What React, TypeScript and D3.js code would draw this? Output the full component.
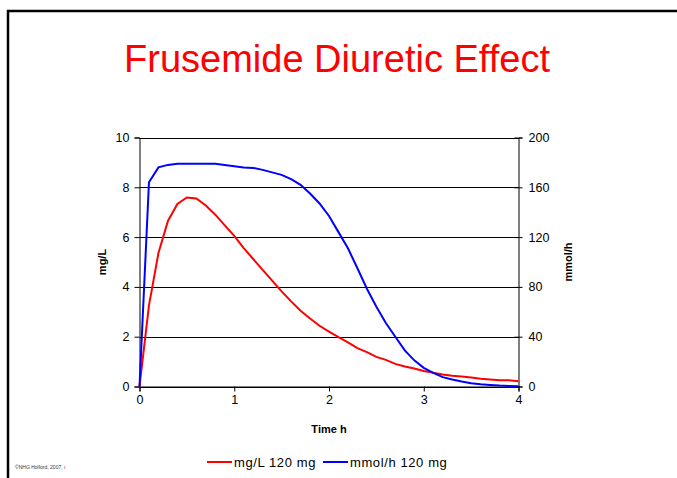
import * as d3 from "d3";
import React, {useEffect, useRef} from "react";

// time (h), sampled every 0.1 h
const times = [
  0, 0.1, 0.2, 0.3, 0.4, 0.5, 0.6, 0.7, 0.8, 0.9, 1.0,
  1.1, 1.2, 1.3, 1.4, 1.5, 1.6, 1.7, 1.8, 1.9, 2.0,
  2.1, 2.2, 2.3, 2.4, 2.5, 2.6, 2.7, 2.8, 2.9, 3.0,
  3.1, 3.2, 3.3, 3.4, 3.5, 3.6, 3.7, 3.8, 3.9, 4.0,
];

// concentration, mg/L (left axis)
const concMgL = [
  0, 3.26, 5.36, 6.65, 7.33, 7.59, 7.55, 7.27, 6.9, 6.47, 6.05,
  5.56, 5.12, 4.68, 4.25, 3.82, 3.42, 3.04, 2.73, 2.44, 2.2,
  1.98, 1.77, 1.54, 1.38, 1.19, 1.07, 0.91, 0.8, 0.72, 0.62,
  0.55, 0.48, 0.43, 0.4, 0.36, 0.31, 0.28, 0.25, 0.25, 0.21,
];

// sodium excretion rate, mmol/h (right axis)
const effectMmolH = [
  0, 164, 176, 178, 179, 179, 179, 179, 179, 178, 177,
  176, 175.6, 174, 172, 170, 166.5, 162, 155, 147, 137,
  124, 111, 95, 78.5, 64, 51, 40, 29, 21, 15,
  11, 7.5, 5.6, 4, 2.7, 1.9, 1.3, 0.8, 0.5, 0.3,
];

const xTicks = [0, 1, 2, 3, 4];
const leftTicks = [0, 2, 4, 6, 8, 10];
const rightTicks = [0, 40, 80, 120, 160, 200];

const seriesNames = ["mg/L 120 mg", "mmol/h 120 mg"];
const seriesColors = ["#ff0000", "#0000ff"];

const font = "Arial, 'Liberation Sans', sans-serif";

const FrusemideChart: React.FC = () => {
  const ref = useRef<SVGSVGElement | null>(null);

  useEffect(() => {
    const svg = d3.select(ref.current);
    svg.selectAll('*').remove();

    const width = 677;
    const height = 478;
    const plot = { left: 139.5, right: 518.5, top: 137.5, bottom: 386.5 };

    svg.attr("width", width).attr("height", height);

    // slide frame (top and left edges)
    svg.append('path')
      .attr('d', `M8,${height} L8,11 L${width},11`)
      .attr('fill', 'none')
      .attr('stroke', 'black')
      .attr('stroke-width', 2.5);

    svg.append('text')
      .attr('x', 337)
      .attr('y', 72)
      .attr('text-anchor', 'middle')
      .attr('fill', '#ff0000')
      .style('font-family', font)
      .style('font-size', '38px')
      .text('Frusemide Diuretic Effect');

    const xScale = d3.scaleLinear().domain([0, 4]).range([plot.left, plot.right]);
    const yLeft = d3.scaleLinear().domain([0, 10]).range([plot.bottom, plot.top]);
    const yRight = d3.scaleLinear().domain([0, 200]).range([plot.bottom, plot.top]);

    // horizontal gridlines
    svg.append('g')
      .selectAll('line')
      .data(leftTicks)
      .enter()
      .append('line')
      .attr('x1', plot.left)
      .attr('x2', plot.right)
      .attr('y1', (d) => Math.round(yLeft(d)) + 0.5)
      .attr('y2', (d) => Math.round(yLeft(d)) + 0.5)
      .attr('stroke', 'black')
      .attr('stroke-width', 1);

    const styleAxis = (g: d3.Selection<SVGGElement, unknown, null, undefined>) => {
      g.select('.domain').attr('stroke', 'black');
      g.selectAll('.tick line').attr('stroke', 'black');
      g.selectAll('.tick text')
        .attr('fill', 'black')
        .style('font-family', font)
        .style('font-size', '12.5px');
    };

    svg.append('g')
      .attr('transform', `translate(0, ${plot.bottom})`)
      .call(d3.axisBottom(xScale).tickValues(xTicks).tickFormat(d3.format('d')).tickSizeOuter(0).tickSize(5).tickPadding(4))
      .call(styleAxis);

    svg.append('g')
      .attr('transform', `translate(${plot.left}, 0)`)
      .call(d3.axisLeft(yLeft).tickValues(leftTicks).tickFormat(d3.format('d')).tickSizeOuter(0).tickSize(5).tickPadding(5))
      .call(styleAxis);

    const rightAxis = svg.append('g')
      .attr('transform', `translate(${plot.right}, 0)`)
      .call(d3.axisRight(yRight).tickValues(rightTicks).tickFormat(d3.format('d')).tickSizeOuter(0).tickSize(4).tickPadding(6))
      .call(styleAxis);
    rightAxis.selectAll('.tick line').attr('x1', -4);

    // axis titles
    svg.append('text')
      .attr('transform', `translate(106, ${(plot.top + plot.bottom) / 2}) rotate(-90)`)
      .attr('text-anchor', 'middle')
      .style('font-family', font)
      .style('font-size', '11px')
      .style('font-weight', 'bold')
      .text('mg/L');

    svg.append('text')
      .attr('transform', `translate(572, ${(plot.top + plot.bottom) / 2}) rotate(-90)`)
      .attr('text-anchor', 'middle')
      .style('font-family', font)
      .style('font-size', '11px')
      .style('font-weight', 'bold')
      .text('mmol/h');

    svg.append('text')
      .attr('x', (plot.left + plot.right) / 2)
      .attr('y', 433)
      .attr('text-anchor', 'middle')
      .style('font-family', font)
      .style('font-size', '11px')
      .style('font-weight', 'bold')
      .text('Time h');

    // curves
    const lineLeft = d3.line<number>()
      .x((_, i) => xScale(times[i]))
      .y((d) => yLeft(d));
    const lineRight = d3.line<number>()
      .x((_, i) => xScale(times[i]))
      .y((d) => yRight(d));

    svg.append('path')
      .datum(concMgL)
      .attr('d', lineLeft)
      .attr('fill', 'none')
      .attr('stroke', seriesColors[0])
      .attr('stroke-width', 2);

    svg.append('path')
      .datum(effectMmolH)
      .attr('d', lineRight)
      .attr('fill', 'none')
      .attr('stroke', seriesColors[1])
      .attr('stroke-width', 2);

    // legend
    const legendX = [207, 323];
    const legend = svg.append('g')
      .selectAll('g')
      .data(seriesNames)
      .enter()
      .append('g')
      .attr('transform', (_, i) => `translate(${legendX[i]}, 462)`);

    legend.append('line')
      .attr('x1', 0)
      .attr('x2', 25)
      .attr('stroke', (_, i) => seriesColors[i])
      .attr('stroke-width', 2);

    legend.append('text')
      .attr('x', 27)
      .attr('dy', '0.35em')
      .style('font-family', font)
      .style('font-size', '13px')
      .style('letter-spacing', '0.6px')
      .text((d) => d);

    svg.append('text')
      .attr('x', 15)
      .attr('y', 469)
      .attr('fill', '#333')
      .style('font-family', font)
      .style('font-size', '5px')
      .text('©NHG Holford, 2007, ı');

    return () => {
      svg.selectAll('*').remove();
    };
  }, []);

  return <svg ref={ref} style={{display: 'block', position: 'absolute', left: 0, top: 0}} />;
};

export default function App() {
  return <FrusemideChart />;
}
